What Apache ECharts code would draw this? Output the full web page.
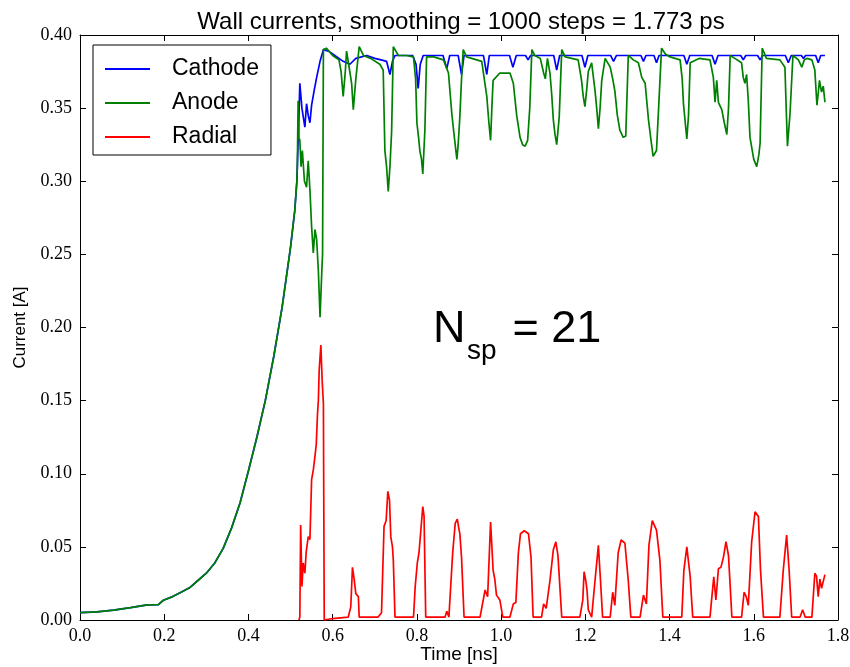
<!DOCTYPE html>
<html>
<head>
<meta charset="utf-8">
<script src="https://cdn.jsdelivr.net/npm/echarts@6/dist/echarts.min.js"></script>
<style>
html,body{margin:0;padding:0;background:#fff;}
#chart{width:850px;height:667px;}
</style>
</head>
<body>
<div id="chart"></div>
<script>
const chartTitle = 'Wall currents, smoothing = 1000 steps = 1.773 ps';
const xAxisName = 'Time [ns]';
const yAxisName = 'Current [A]';
const seriesNames = ['Cathode', 'Anode', 'Radial'];
const xTickLabels = ['0.0','0.2','0.4','0.6','0.8','1.0','1.2','1.4','1.6','1.8'];
const yTickLabels = ['0.00','0.05','0.10','0.15','0.20','0.25','0.30','0.35','0.40'];

// Cathode current [time ns, current A]
const cathode = [
[0,0.005],[0.04,0.0055],[0.08,0.0068],[0.12,0.0085],[0.16,0.0103],[0.186,0.0105],[0.198,0.0135],[0.22,0.016],[0.24,0.019],[0.26,0.022],[0.28,0.027],[0.30,0.032],[0.32,0.039],[0.34,0.049],[0.36,0.063],[0.38,0.08],[0.40,0.102],[0.42,0.125],[0.44,0.150],[0.46,0.180],[0.48,0.214],[0.50,0.255],[0.51,0.28],[0.515,0.30],
[0.52,0.345],[0.522,0.367],[0.527,0.35],[0.534,0.337],[0.538,0.353],[0.542,0.345],[0.546,0.340],[0.550,0.352],[0.556,0.362],[0.562,0.371],[0.570,0.382],[0.578,0.390],[0.59,0.389],[0.60,0.387],[0.61,0.385],[0.625,0.382],[0.641,0.380],[0.655,0.384],[0.681,0.386],[0.70,0.384],[0.715,0.383],[0.728,0.382],[0.736,0.373],[0.742,0.382],[0.748,0.386],[0.79,0.386],[0.798,0.38],[0.803,0.3635],[0.808,0.38],[0.815,0.386],[0.862,0.386],[0.871,0.377],[0.878,0.386],[0.898,0.386],[0.906,0.373],[0.912,0.386],[0.958,0.386],[0.966,0.373],[0.972,0.386],[1.02,0.386],[1.028,0.378],[1.036,0.386],[1.058,0.386],[1.064,0.383],[1.07,0.386],[1.125,0.386],[1.132,0.376],[1.139,0.386],[1.192,0.386],[1.199,0.378],[1.206,0.386],[1.26,0.386],[1.267,0.382],[1.274,0.386],[1.332,0.386],[1.338,0.382],[1.344,0.386],[1.363,0.386],[1.369,0.381],[1.375,0.386],[1.434,0.386],[1.441,0.380],[1.448,0.386],[1.501,0.386],[1.508,0.380],[1.515,0.386],[1.569,0.386],[1.575,0.383],[1.581,0.386],[1.609,0.386],[1.615,0.383],[1.621,0.386],[1.675,0.386],[1.682,0.381],[1.689,0.386],[1.713,0.386],[1.718,0.384],[1.723,0.386],[1.747,0.386],[1.753,0.381],[1.759,0.386],[1.769,0.386]
];

// Anode current
const anode = [
[0,0.005],[0.04,0.0055],[0.08,0.0068],[0.12,0.0085],[0.16,0.0103],[0.186,0.0105],[0.198,0.0135],[0.22,0.016],[0.24,0.019],[0.26,0.022],[0.28,0.027],[0.30,0.032],[0.32,0.039],[0.34,0.049],[0.36,0.063],[0.38,0.08],[0.40,0.102],[0.42,0.125],[0.44,0.150],[0.46,0.180],[0.48,0.214],[0.50,0.255],[0.51,0.28],[0.515,0.30],
[0.516,0.31],[0.518,0.355],[0.520,0.33],[0.522,0.328],[0.525,0.31],[0.528,0.321],[0.533,0.30],[0.538,0.296],[0.542,0.314],[0.546,0.294],[0.550,0.269],[0.554,0.251],[0.558,0.267],[0.562,0.26],[0.566,0.239],[0.570,0.207],[0.574,0.237],[0.576,0.25],[0.578,0.39],[0.585,0.391],[0.60,0.386],[0.615,0.383],[0.620,0.375],[0.625,0.358],[0.630,0.375],[0.633,0.389],[0.638,0.38],[0.645,0.367],[0.649,0.349],[0.655,0.37],[0.663,0.392],[0.673,0.386],[0.69,0.384],[0.712,0.380],[0.72,0.376],[0.724,0.321],[0.728,0.31],[0.732,0.293],[0.736,0.31],[0.74,0.334],[0.744,0.392],[0.756,0.386],[0.775,0.386],[0.792,0.385],[0.797,0.37],[0.8,0.34],[0.804,0.33],[0.807,0.321],[0.811,0.315],[0.814,0.305],[0.819,0.335],[0.823,0.385],[0.84,0.385],[0.863,0.383],[0.875,0.374],[0.879,0.36],[0.883,0.346],[0.889,0.33],[0.895,0.315],[0.898,0.325],[0.902,0.344],[0.906,0.37],[0.91,0.39],[0.918,0.385],[0.954,0.382],[0.96,0.37],[0.966,0.358],[0.971,0.34],[0.975,0.328],[0.978,0.35],[0.981,0.369],[0.997,0.374],[1.021,0.374],[1.029,0.367],[1.037,0.345],[1.045,0.33],[1.051,0.325],[1.057,0.324],[1.063,0.328],[1.068,0.35],[1.073,0.39],[1.08,0.386],[1.093,0.384],[1.101,0.374],[1.105,0.37],[1.11,0.384],[1.116,0.374],[1.12,0.36],[1.124,0.342],[1.128,0.332],[1.132,0.325],[1.138,0.344],[1.144,0.39],[1.152,0.385],[1.183,0.383],[1.191,0.369],[1.195,0.358],[1.199,0.351],[1.203,0.362],[1.207,0.375],[1.215,0.381],[1.223,0.362],[1.227,0.35],[1.231,0.336],[1.235,0.35],[1.239,0.369],[1.247,0.384],[1.259,0.378],[1.265,0.37],[1.27,0.362],[1.276,0.345],[1.282,0.335],[1.29,0.33],[1.296,0.331],[1.302,0.386],[1.314,0.383],[1.326,0.381],[1.334,0.371],[1.342,0.367],[1.35,0.342],[1.356,0.328],[1.361,0.317],[1.365,0.316],[1.369,0.321],[1.374,0.35],[1.381,0.391],[1.39,0.387],[1.401,0.385],[1.425,0.383],[1.43,0.37],[1.433,0.353],[1.441,0.329],[1.445,0.345],[1.449,0.381],[1.47,0.384],[1.496,0.383],[1.504,0.371],[1.508,0.354],[1.512,0.369],[1.516,0.354],[1.524,0.349],[1.53,0.34],[1.536,0.332],[1.54,0.35],[1.544,0.386],[1.555,0.384],[1.571,0.381],[1.575,0.371],[1.579,0.367],[1.583,0.373],[1.587,0.355],[1.591,0.33],[1.6,0.315],[1.607,0.31],[1.612,0.318],[1.615,0.326],[1.62,0.391],[1.63,0.384],[1.662,0.383],[1.674,0.378],[1.677,0.35],[1.68,0.324],[1.686,0.346],[1.693,0.386],[1.706,0.383],[1.714,0.378],[1.72,0.383],[1.726,0.384],[1.738,0.383],[1.745,0.376],[1.75,0.352],[1.753,0.36],[1.756,0.369],[1.761,0.361],[1.765,0.365],[1.769,0.354]
];

// Radial current
const radial = [
[0.52,0.0],[0.522,0.002],[0.524,0.065],[0.527,0.023],[0.53,0.039],[0.534,0.032],[0.537,0.046],[0.542,0.057],[0.546,0.055],[0.55,0.096],[0.554,0.1026],[0.558,0.112],[0.561,0.12],[0.564,0.141],[0.566,0.15],[0.568,0.171],[0.572,0.188],[0.575,0.164],[0.578,0.148],[0.58,0.0],[0.6,0.001],[0.637,0.002],[0.643,0.009],[0.647,0.036],[0.651,0.028],[0.655,0.018],[0.661,0.016],[0.663,0.002],[0.708,0.002],[0.716,0.005],[0.722,0.064],[0.727,0.068],[0.731,0.088],[0.735,0.082],[0.738,0.057],[0.742,0.05],[0.744,0.041],[0.748,0.002],[0.792,0.002],[0.796,0.023],[0.801,0.039],[0.805,0.046],[0.809,0.06],[0.814,0.0775],[0.817,0.071],[0.821,0.002],[0.867,0.002],[0.871,0.006],[0.876,0.002],[0.885,0.046],[0.891,0.066],[0.896,0.069],[0.9,0.062],[0.902,0.059],[0.906,0.043],[0.912,0.002],[0.95,0.002],[0.962,0.0205],[0.968,0.016],[0.975,0.067],[0.981,0.034],[0.985,0.028],[0.989,0.017],[0.997,0.0137],[1.004,0.002],[1.021,0.002],[1.029,0.011],[1.035,0.012],[1.041,0.046],[1.046,0.059],[1.055,0.061],[1.065,0.059],[1.071,0.043],[1.076,0.002],[1.096,0.002],[1.101,0.011],[1.107,0.008],[1.116,0.027],[1.124,0.048],[1.13,0.0535],[1.135,0.044],[1.144,0.002],[1.187,0.002],[1.194,0.0137],[1.197,0.033],[1.201,0.027],[1.204,0.0205],[1.207,0.007],[1.215,0.002],[1.223,0.027],[1.231,0.051],[1.236,0.027],[1.241,0.002],[1.259,0.002],[1.265,0.019],[1.27,0.01],[1.278,0.046],[1.285,0.0547],[1.294,0.0525],[1.302,0.027],[1.308,0.002],[1.33,0.002],[1.338,0.017],[1.345,0.011],[1.351,0.051],[1.359,0.068],[1.369,0.0615],[1.377,0.041],[1.384,0.002],[1.429,0.002],[1.434,0.034],[1.441,0.050],[1.449,0.0296],[1.455,0.002],[1.496,0.002],[1.505,0.0296],[1.51,0.0137],[1.516,0.035],[1.522,0.036],[1.528,0.043],[1.534,0.0535],[1.54,0.044],[1.548,0.002],[1.571,0.002],[1.577,0.019],[1.582,0.016],[1.587,0.01],[1.595,0.0535],[1.603,0.074],[1.611,0.0707],[1.616,0.034],[1.623,0.002],[1.662,0.002],[1.67,0.034],[1.678,0.058],[1.684,0.034],[1.69,0.002],[1.71,0.002],[1.716,0.007],[1.722,0.002],[1.738,0.002],[1.745,0.032],[1.749,0.03],[1.753,0.016],[1.757,0.028],[1.761,0.0217],[1.769,0.031]
];

const chart = echarts.init(document.getElementById('chart'), null, {renderer: 'canvas'});
const serifFont = '"Liberation Serif", "DejaVu Serif", serif';
const sansFont = '"Liberation Sans", Arial, sans-serif';

const baseX = {type: 'value', min: 0, max: 1.8, interval: 0.2, splitLine: {show: false},
  axisLine: {show: true, onZero: false, lineStyle: {color: '#000', width: 1}},
  axisTick: {show: true, inside: true, length: 6, lineStyle: {color: '#000'}}};
const baseY = {type: 'value', min: 0, max: 0.4, interval: 0.05, splitLine: {show: false},
  axisLine: {show: true, onZero: false, lineStyle: {color: '#000', width: 1}},
  axisTick: {show: true, inside: true, length: 6, lineStyle: {color: '#000'}}};

const option = {
  animation: false,
  backgroundColor: '#fff',
  title: {text: chartTitle, left: 456, top: 5, textAlign: 'center',
    textStyle: {fontFamily: sansFont, fontSize: 24, fontWeight: 'normal', color: '#000'}},
  grid: {left: 80, right: 12, top: 35, bottom: 47, containLabel: false, outerBoundsMode: 'none'},
  legend: {
    orient: 'vertical', left: 93, top: 45,
    data: seriesNames,
    icon: 'rect', itemWidth: 45, itemHeight: 2, itemGap: 10,
    padding: [12, 12, 6, 12],
    backgroundColor: '#fff', borderColor: '#000', borderWidth: 1, borderRadius: 0,
    formatter: n => '{a|' + n + '}',
    textStyle: {fontFamily: sansFont, fontSize: 23, color: '#000', lineHeight: 24,
      rich: {a: {fontFamily: sansFont, fontSize: 23, color: '#000', lineHeight: 24, padding: [0, 0, 0, 17]}}}
  },
  xAxis: [
    Object.assign({}, baseX, {position: 'bottom', name: xAxisName, nameLocation: 'middle', nameGap: 25,
      nameMoveOverlap: false,
      nameTextStyle: {fontFamily: sansFont, fontSize: 19, color: '#000'},
      axisLabel: {show: true, margin: 7, color: '#000', fontFamily: serifFont, fontSize: 18,
        formatter: (v, i) => xTickLabels[i]}}),
    Object.assign({}, baseX, {position: 'top', axisLabel: {show: false}})
  ],
  yAxis: [
    Object.assign({}, baseY, {position: 'left', name: yAxisName, nameLocation: 'middle', nameGap: 51,
      nameTextStyle: {fontFamily: sansFont, fontSize: 17, color: '#000'},
      axisLabel: {show: true, margin: 8, color: '#000', fontFamily: serifFont, fontSize: 18,
        formatter: (v, i) => yTickLabels[i]}}),
    Object.assign({}, baseY, {position: 'right', axisLabel: {show: false}})
  ],
  graphic: [
    {type: 'text', left: 433, top: 307, style: {text: 'N', font: '45px ' + sansFont, fill: '#000'}},
    {type: 'text', left: 467, top: 337, style: {text: 'sp', font: '28px ' + sansFont, fill: '#000'}},
    {type: 'text', left: 500, top: 307, style: {text: ' = 21', font: '45px ' + sansFont, fill: '#000'}}
  ],
  series: [
    {name: seriesNames[0], type: 'line', data: cathode, showSymbol: false, symbol: 'none',
      lineStyle: {color: '#0000ff', width: 1.7}, itemStyle: {color: '#0000ff'}, z: 2},
    {name: seriesNames[1], type: 'line', data: anode, showSymbol: false, symbol: 'none',
      lineStyle: {color: '#008000', width: 1.7}, itemStyle: {color: '#008000'}, z: 3},
    {name: seriesNames[2], type: 'line', data: radial, showSymbol: false, symbol: 'none',
      lineStyle: {color: '#ff0000', width: 1.7}, itemStyle: {color: '#ff0000'}, z: 4}
  ]
};
chart.setOption(option);
</script>
</body>
</html>
